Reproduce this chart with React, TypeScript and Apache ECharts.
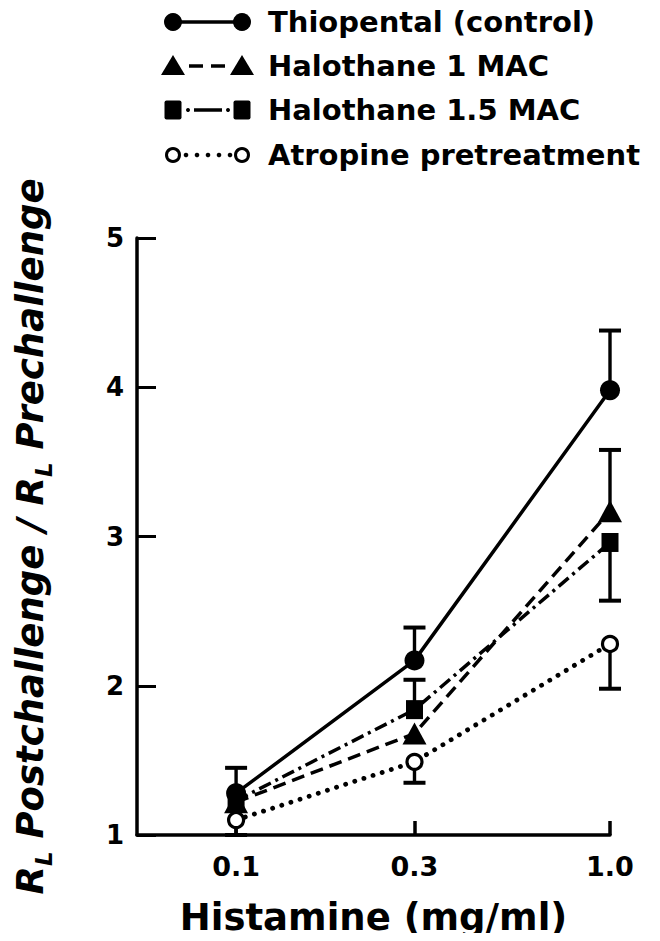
import React, { useEffect, useRef } from "react";
import * as echarts from "echarts";

const doses = [0.1, 0.3, 1.0];
const doseLabels = ["0.1", "0.3", "1.0"];
const yTicks = [1, 2, 3, 4, 5];

const seriesNames = ["Thiopental (control)", "Halothane 1 MAC", "Halothane 1.5 MAC", "Atropine pretreatment"];
const thiopental = [1.28, 2.17, 3.98];
const halothane1 = [1.22, 1.68, 3.17];
const halothane15 = [1.23, 1.84, 2.96];
const atropine = [1.1, 1.49, 2.28];

// one-sided error bar end points (null = no bar)
const thiopentalErr = [1.45, 2.39, 4.38];
const halothane1Err = [null, null, 3.58];
const halothane15Err = [null, 2.04, 2.57];
const atropineErr = [1.0, 1.35, 1.98];

const FONT = "'DejaVu Sans', 'Liberation Sans', Arial, sans-serif";

const styles = [
  { dash: "solid" as any, symbol: "circle", size: 20, fill: "#000", border: 0 },
  { dash: [13, 7], symbol: "triangle", size: [24, 22], fill: "#000", border: 0 },
  { dash: [13, 5, 3, 5], symbol: "rect", size: [17, 19], fill: "#000", border: 0 },
  { dash: [0.1, 9.5], symbol: "circle", size: 15, fill: "#fff", border: 3.2 },
];

const values = [thiopental, halothane1, halothane15, atropine];
const errs = [thiopentalErr, halothane1Err, halothane15Err, atropineErr];

export default function App() {
  const ref = useRef<HTMLDivElement>(null);
  useEffect(() => {
    if (!ref.current) return;
    const chart = echarts.init(ref.current, undefined, { renderer: "svg" });
    const xs = doses.map((d) => Math.log10(d));
    const labelMap: Record<string, string> = {};
    xs.forEach((x, i) => (labelMap[x.toFixed(4)] = doseLabels[i]));

    const errData: any[] = [];
    errs.forEach((arr, si) =>
      arr.forEach((e, i) => {
        if (e !== null) errData.push([xs[i], values[si][i], e]);
      })
    );

    const lineSeries = values.map((vals, si) => ({
      type: "line",
      name: seriesNames[si],
      data: vals.map((v, i) => [xs[i], v]),
      symbol: styles[si].symbol,
      symbolSize: styles[si].size,
      showAllSymbol: true,
      z: si === 1 ? 6 : si === 2 ? 5 : si === 0 ? 4 : 3,
      lineStyle: {
        color: "#000",
        width: si === 3 ? 4.8 : 3.5,
        type: styles[si].dash,
        cap: si === 3 ? "round" : "butt",
      },
      itemStyle: {
        color: styles[si].fill,
        borderColor: "#000",
        borderWidth: styles[si].border,
      },
      emphasis: { disabled: true },
    }));

    // legend drawn as graphics
    const legendRows = [22, 66, 110, 155];
    const mL = 173;
    const mR = 242;
    const seg = (x1: number, x2: number, y: number, w = 3.5) => ({
      type: "line",
      shape: { x1, y1: y, x2, y2: y },
      style: { stroke: "#000", lineWidth: w },
    });
    const dot = (cx: number, y: number, r = 2.2) => ({ type: "circle", shape: { cx, cy: y, r }, style: { fill: "#000" } });
    const legendGraphics: any[] = [];
    legendRows.forEach((y, si) => {
      if (si === 0) legendGraphics.push(seg(mL, mR, y));
      if (si === 1) legendGraphics.push(seg(189, 203, y), seg(211, 225, y));
      if (si === 2) legendGraphics.push(dot(188, y, 2), seg(194, 222, y), dot(228, y, 2));
      if (si === 3) [186, 197, 208, 219, 230].forEach((cx) => legendGraphics.push(dot(cx, y, 2.3)));
      [mL, mR].forEach((cx) => {
        if (si === 0) legendGraphics.push({ type: "circle", shape: { cx, cy: y, r: 9 }, style: { fill: "#000" } });
        if (si === 1)
          legendGraphics.push({
            type: "polygon",
            shape: { points: [[cx, y - 11], [cx + 12, y + 9], [cx - 12, y + 9]] },
            style: { fill: "#000" },
          });
        if (si === 2)
          legendGraphics.push({ type: "rect", shape: { x: cx - 8.5, y: y - 9.5, width: 17, height: 19, r: 2 }, style: { fill: "#000" } });
        if (si === 3)
          legendGraphics.push({ type: "circle", shape: { cx, cy: y, r: 6.5 }, style: { fill: "#fff", stroke: "#000", lineWidth: 3 } });
      });
      legendGraphics.push({
        type: "text",
        x: 268,
        y,
        style: {
          text: seriesNames[si],
          font: `bold 29px ${FONT}`,
          fill: "#000",
          verticalAlign: "middle",
          align: "left",
        },
      });
    });

    chart.setOption({
      animation: false,
      grid: { left: 137, right: 50, top: 238, bottom: 104, containLabel: false },
      xAxis: {
        type: "value",
        min: -1.265,
        max: 0,
        name: "Histamine (mg/ml)",
        nameLocation: "middle",
        nameGap: 64,
        nameTextStyle: { fontFamily: FONT, fontWeight: "bold", fontSize: 37, color: "#000" },
        axisLine: { show: true, onZero: false, lineStyle: { color: "#000", width: 3.5 } },
        axisTick: {
          show: true,
          inside: true,
          length: 14,
          lineStyle: { color: "#000", width: 3.5 },
          customValues: xs,
        },
        axisLabel: {
          show: true,
          customValues: xs,
          margin: 18,
          formatter: (v: number) => labelMap[v.toFixed(4)] ?? "",
          fontFamily: FONT,
          fontWeight: "bold",
          fontSize: 27,
          color: "#000",
        },
        splitLine: { show: false },
      },
      yAxis: {
        type: "value",
        min: 1,
        max: 5,
        interval: 1,
        name: "{i|R}{s|L}{i| Postchallenge / R}{s|L}{i| Prechallenge}",
        nameLocation: "middle",
        nameRotate: 90,
        nameGap: 82,
        nameTextStyle: {
          rich: {
            i: { fontFamily: FONT, fontWeight: "bold", fontStyle: "italic", fontSize: 37, color: "#000", lineHeight: 50, verticalAlign: "middle" },
            s: { fontFamily: FONT, fontWeight: "bold", fontStyle: "italic", fontSize: 23, color: "#000", lineHeight: 50, verticalAlign: "bottom" },
          },
        },
        axisLine: { show: true, onZero: false, lineStyle: { color: "#000", width: 3.5 } },
        axisTick: { show: true, inside: true, length: 19, lineStyle: { color: "#000", width: 3 } },
        axisLabel: {
          margin: 13,
          fontFamily: FONT,
          fontWeight: "bold",
          fontSize: 26,
          color: "#000",
          formatter: (v: number) => (yTicks.includes(v) ? String(v) : ""),
        },
        splitLine: { show: false },
      },
      series: [
        {
          type: "custom",
          z: 2,
          data: errData,
          renderItem: (params: any, api: any) => {
            const p0 = api.coord([api.value(0), api.value(1)]);
            const p1 = api.coord([api.value(0), api.value(2)]);
            const hw = 11;
            return {
              type: "group",
              children: [
                { type: "line", shape: { x1: p0[0], y1: p0[1], x2: p1[0], y2: p1[1] }, style: { stroke: "#000", lineWidth: 3.4 } },
                { type: "line", shape: { x1: p1[0] - hw, y1: p1[1], x2: p1[0] + hw, y2: p1[1] }, style: { stroke: "#000", lineWidth: 4 } },
              ],
            };
          },
        },
        ...lineSeries,
      ],
      graphic: legendGraphics,
    });
    return () => chart.dispose();
  }, []);
  return <div ref={ref} style={{ width: 660, height: 941, margin: -8, background: "#fff" }} />;
}
